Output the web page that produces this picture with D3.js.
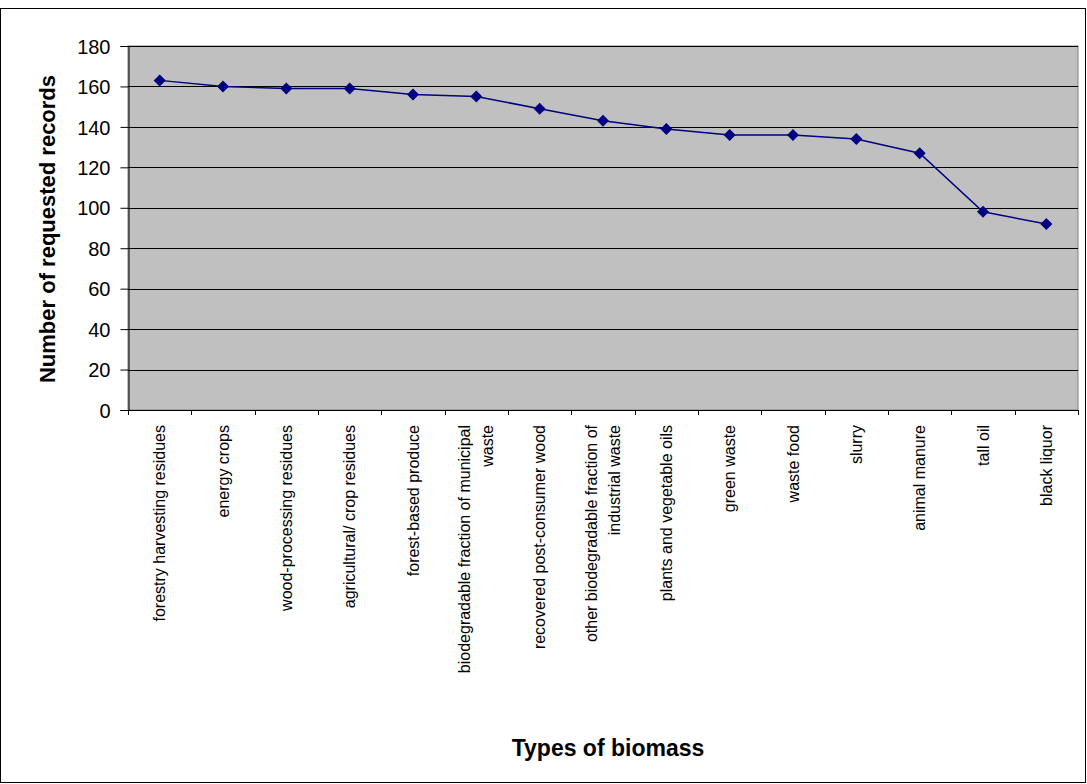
<!DOCTYPE html>
<html>
<head>
<meta charset="utf-8">
<script src="https://cdn.jsdelivr.net/npm/d3@7"></script>
<style>
  html, body { margin: 0; padding: 0; background: #ffffff; }
  svg { display: block; }
  text { font-family: "Liberation Sans", Arial, sans-serif; fill: #000; }
</style>
</head>
<body>
<svg id="chart" width="1087" height="784"></svg>
<script>
// Biomass types (line breaks mark wrapped labels)
const categories = [
  "forestry harvesting residues",
  "energy crops",
  "wood-processing residues",
  "agricultural/ crop residues",
  "forest-based produce",
  "biodegradable fraction of municipal\nwaste",
  "recovered post-consumer wood",
  "other biodegradable fraction of\nindustrial waste",
  "plants and vegetable oils",
  "green waste",
  "waste food",
  "slurry",
  "animal manure",
  "tall oil",
  "black liquor"
];

// Number of requested records per biomass type
const records = [163, 160, 159, 159, 156, 155, 149, 143, 139, 136, 136, 134, 127, 98, 92];

const yTicks = [0, 20, 40, 60, 80, 100, 120, 140, 160, 180];

const yTitle = "Number of requested records";
const xTitle = "Types of biomass";

const W = 1087, H = 784;
const plot = { left: 128, right: 1078, top: 46, bottom: 410 };

const svg = d3.select("#chart");

// outer chart frame
svg.append("rect")
  .attr("x", 0.5).attr("y", 8.5)
  .attr("width", W - 2).attr("height", H - 10)
  .attr("fill", "#fff").attr("stroke", "#000").attr("stroke-width", 1);

const x = d3.scaleBand()
  .domain(categories)
  .range([plot.left, plot.right])
  .paddingInner(0).paddingOuter(0);

const y = d3.scaleLinear()
  .domain([0, 180])
  .range([plot.bottom, plot.top]);

// plot background
svg.append("rect")
  .attr("x", plot.left).attr("y", plot.top)
  .attr("width", plot.right - plot.left)
  .attr("height", plot.bottom - plot.top)
  .attr("fill", "#c0c0c0")
  .attr("stroke", "#808080").attr("stroke-width", 1);

// horizontal gridlines
svg.append("g")
  .selectAll("line")
  .data(yTicks.filter(d => d > 0))
  .join("line")
  .attr("x1", plot.left).attr("x2", plot.right)
  .attr("y1", d => Math.round(y(d)) + 0.5)
  .attr("y2", d => Math.round(y(d)) + 0.5)
  .attr("stroke", "#000").attr("stroke-width", 1);

// y axis
const yAxis = d3.axisLeft(y)
  .tickValues(yTicks)
  .tickSize(8)
  .tickPadding(10)
  .tickFormat(d3.format("d"));

const gy = svg.append("g")
  .attr("transform", `translate(${plot.left + 0.5},0)`)
  .call(yAxis);
gy.select(".domain").attr("stroke", "#000");
gy.selectAll(".tick line").attr("stroke", "#000");
gy.selectAll(".tick text")
  .style("font-size", "20px")
  .attr("dy", "0.36em");

// x axis: tick marks at category boundaries
const bounds = categories.map(c => x(c)).concat([plot.right]);
const gx = svg.append("g");
gx.append("line")
  .attr("x1", plot.left).attr("x2", plot.right)
  .attr("y1", plot.bottom + 0.5).attr("y2", plot.bottom + 0.5)
  .attr("stroke", "#000");
gx.selectAll("line.tk")
  .data(bounds)
  .join("line")
  .attr("class", "tk")
  .attr("x1", d => Math.round(d) + 0.5).attr("x2", d => Math.round(d) + 0.5)
  .attr("y1", plot.bottom).attr("y2", plot.bottom + 5)
  .attr("stroke", "#000");

// rotated category labels
const lineH = 23;
const labels = svg.append("g").selectAll("text")
  .data(categories)
  .join("text")
  .attr("transform", d => `translate(${x(d) + x.bandwidth() / 2},${plot.bottom + 15}) rotate(-90)`)
  .attr("text-anchor", "end")
  .style("font-size", "16px");
labels.each(function(d) {
  const lines = d.split("\n");
  const n = lines.length;
  d3.select(this).selectAll("tspan")
    .data(lines)
    .join("tspan")
    .attr("x", 0)
    .attr("y", (l, i) => (i - (n - 1) / 2) * lineH)
    .attr("dy", "0.35em")
    .text(l => l);
});

// line series
const line = d3.line()
  .x((d, i) => x(categories[i]) + x.bandwidth() / 2)
  .y(d => y(d));

svg.append("path")
  .datum(records)
  .attr("d", line)
  .attr("fill", "none")
  .attr("stroke", "#000080")
  .attr("stroke-width", 1.5);

// diamond markers
svg.append("g").selectAll("path")
  .data(records)
  .join("path")
  .attr("d", d3.symbol().type(d3.symbolSquare).size(56))
  .attr("transform", (d, i) => `translate(${x(categories[i]) + x.bandwidth() / 2},${y(d)}) rotate(45)`)
  .attr("fill", "#000080")
  .attr("stroke", "#000080")
  .attr("stroke-width", 1);

// axis titles
svg.append("text")
  .attr("transform", `translate(55,${(plot.top + plot.bottom) / 2 + 1}) rotate(-90)`)
  .attr("text-anchor", "middle")
  .style("font-size", "22px")
  .style("font-weight", "bold")
  .text(yTitle);

svg.append("text")
  .attr("x", 608)
  .attr("y", 756)
  .attr("text-anchor", "middle")
  .style("font-size", "23px")
  .style("font-weight", "bold")
  .text(xTitle);
</script>
</body>
</html>
